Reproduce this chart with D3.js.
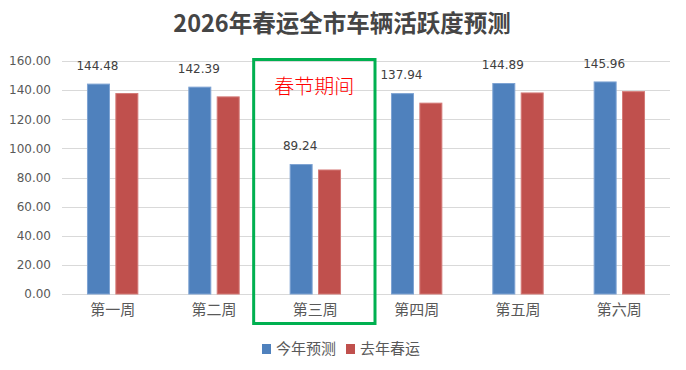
<!DOCTYPE html>
<html>
<head>
<meta charset="utf-8">
<script src="https://cdn.jsdelivr.net/npm/d3@7"></script>
<style>
  body { margin: 0; background: #fff; }
  svg text { font-family: "DejaVu Sans", sans-serif; }
  .cjk { font-family: "Noto Sans CJK SC", sans-serif; }
</style>
</head>
<body>
<script>
const categories = ['第一周', '第二周', '第三周', '第四周', '第五周', '第六周'];
const seriesNames = ['今年预测', '去年春运'];
const thisYear = [144.48, 142.39, 89.24, 137.94, 144.89, 145.96];
const lastYear = [138.0, 135.7, 85.5, 131.4, 138.4, 139.3];
const yTicks = [0, 20, 40, 60, 80, 100, 120, 140, 160];
const highlightCategory = '第三周';
const highlightLabel = '春节期间';

const width = 686;
const height = 370;
const margin = { top: 61, right: 16, bottom: 76, left: 62 };

const colors = ['#4f81bd', '#c0504d'];
const borders = ['#7ea3d3', '#d47a77'];

const svg = d3
  .select('body')
  .append('svg')
  .attr('width', width)
  .attr('height', height);

// scales
const x0 = d3
  .scaleBand()
  .domain(categories)
  .range([margin.left, width - margin.right]);

const x1 = d3
  .scaleBand()
  .domain(seriesNames)
  .range([0, x0.bandwidth()])
  .paddingInner(0.19)
  .paddingOuter(0.88);

const y = d3
  .scaleLinear()
  .domain([0, 160])
  .range([height - margin.bottom, margin.top]);

// title
svg
  .append('text')
  .attr('class', 'cjk')
  .attr('x', 342)
  .attr('y', 24)
  .attr('dy', '0.36em')
  .attr('text-anchor', 'middle')
  .style('font-size', '23.5px')
  .style('font-weight', 'bold')
  .style('fill', '#454545')
  .text('2026年春运全市车辆活跃度预测');

// gridlines
svg
  .append('g')
  .selectAll('line')
  .data(yTicks)
  .join('line')
  .attr('x1', margin.left)
  .attr('x2', width - margin.right)
  .attr('y1', (d) => Math.round(y(d)) + 0.5)
  .attr('y2', (d) => Math.round(y(d)) + 0.5)
  .attr('stroke', '#d9d9d9')
  .attr('stroke-width', 1);

// y axis labels
const yAxis = svg
  .append('g')
  .attr('transform', `translate(${margin.left},0)`)
  .call(d3.axisLeft(y).tickValues(yTicks).tickSize(0).tickPadding(11).tickFormat(d3.format('.2f')));
yAxis.select('.domain').remove();
yAxis
  .selectAll('text')
  .style('font-size', '12px')
  .style('fill', '#595959')
  .style('font-family', '"DejaVu Sans", sans-serif');

// x axis labels
const xAxis = svg
  .append('g')
  .attr('transform', `translate(0,${y(0)})`)
  .call(d3.axisBottom(x0).tickSize(0).tickPadding(10));
xAxis.select('.domain').remove();
xAxis
  .selectAll('text')
  .attr('class', 'cjk')
  .style('font-size', '15px')
  .style('fill', '#595959')
  .style('font-family', '"Noto Sans CJK SC", sans-serif');

// bars
const rows = categories.map((c, i) => ({ cat: c, values: [thisYear[i], lastYear[i]] }));

svg
  .append('g')
  .selectAll('g')
  .data(rows)
  .join('g')
  .attr('transform', (d) => `translate(${x0(d.cat)},0)`)
  .selectAll('rect')
  .data((d) => d.values.map((v, j) => ({ key: seriesNames[j], value: v, j })))
  .join('rect')
  .attr('x', (d) => x1(d.key) + 0.5)
  .attr('y', (d) => y(d.value) + 0.5)
  .attr('width', x1.bandwidth() - 1)
  .attr('height', (d) => y(0) - y(d.value) - 0.5)
  .attr('fill', (d) => colors[d.j])
  .attr('stroke', (d) => borders[d.j])
  .attr('stroke-width', 1);

// data labels (this year only)
svg
  .append('g')
  .selectAll('text')
  .data(rows)
  .join('text')
  .attr('x', (d) => x0(d.cat) + x1(seriesNames[0]) + x1.bandwidth() / 2 - 1)
  .attr('y', (d) => y(d.values[0]) - 18)
  .attr('dy', '0.36em')
  .attr('text-anchor', 'middle')
  .style('font-size', '12px')
  .style('fill', '#404040')
  .text((d) => d3.format('.2f')(d.values[0]));

// highlight box around spring festival week
const hx = x0(highlightCategory);
svg
  .append('rect')
  .attr('x', hx - 11)
  .attr('y', 59.5)
  .attr('width', x0.bandwidth() + 20)
  .attr('height', 264)
  .attr('fill', 'none')
  .attr('stroke', '#00b050')
  .attr('stroke-width', 3);

svg
  .append('text')
  .attr('class', 'cjk')
  .attr('x', hx + x0.bandwidth() / 2 - 1)
  .attr('y', 87)
  .attr('dy', '0.36em')
  .attr('text-anchor', 'middle')
  .style('font-size', '20px')
  .style('font-weight', 300)
  .style('fill', '#ff0000')
  .text(highlightLabel);

// legend
const legend = svg
  .append('g')
  .selectAll('g')
  .data(seriesNames)
  .join('g')
  .attr('transform', (d, i) => `translate(${262 + i * 84},0)`);

legend
  .append('rect')
  .attr('x', 0)
  .attr('y', 344)
  .attr('width', 9)
  .attr('height', 10)
  .attr('fill', (d, i) => colors[i]);

legend
  .append('text')
  .attr('class', 'cjk')
  .attr('x', 14)
  .attr('y', 349)
  .attr('dy', '0.36em')
  .style('font-size', '15px')
  .style('fill', '#595959')
  .text((d) => d);
</script>
</body>
</html>
